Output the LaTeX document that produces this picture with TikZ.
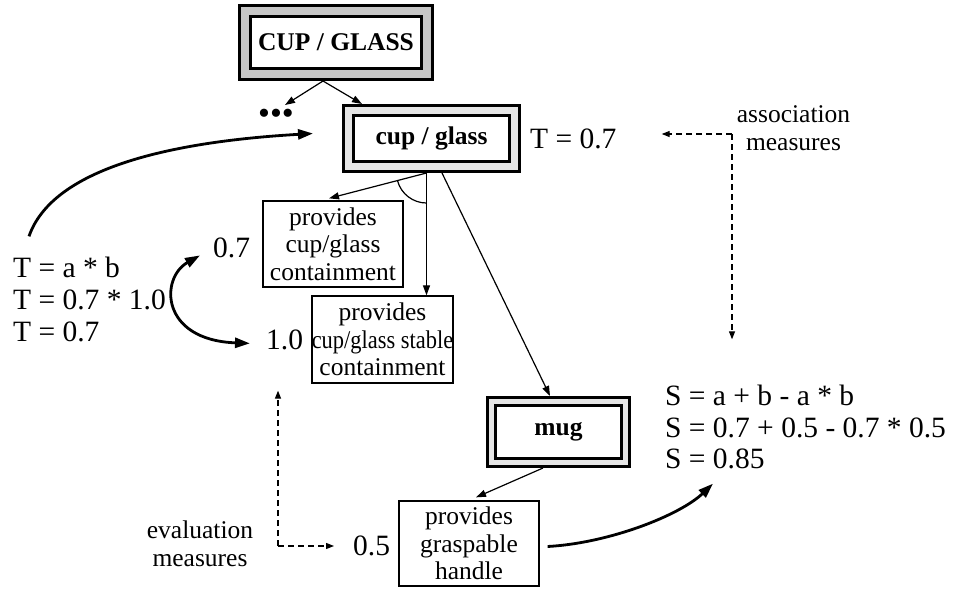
\documentclass[tikz,border=0pt]{standalone}
\usepackage{fontspec}
\usepackage{graphicx}
\setmainfont{Liberation Serif}
\usetikzlibrary{arrows.meta,calc}

\begin{document}
\begin{tikzpicture}[x=1pt,y=-1pt,
  lbl/.style={inner sep=0pt, font=\fontsize{29.5}{32}\selectfont},
  small/.style={inner sep=0pt, font=\fontsize{25.5}{28}\selectfont},
  pbox/.style={draw, line width=1.3pt, inner sep=0pt, align=center,
    font=\fontsize{25.5}{27.5}\selectfont},
  cbox/.style={draw, line width=2.6pt, fill=white, inner sep=0pt,
    font=\bfseries\fontsize{25.5}{28}\selectfont},
  link/.style={line width=1.2pt, -{Triangle[length=10pt,width=7pt]}},
  bold link/.style={line width=2.8pt, -{Triangle[length=15pt,width=10pt]}},
  bold both/.style={line width=2.8pt,
    {Triangle[length=15pt,width=10pt]}-{Triangle[length=15pt,width=10pt]}},
  measure/.style={line width=1.2pt, dash pattern=on 6pt off 4pt,
    -{Triangle[length=8pt,width=6pt]}},
]
\useasboundingbox (0,0) rectangle (955,592);

% concept boxes (double framed)
\node[cbox, double=gray!45, double distance=8.5pt, minimum width=182.3pt,
  minimum height=63.3pt, outer sep=6.85pt] (CUP) at (336,42.5) {CUP / GLASS};
\node[cbox, double=gray!20, double distance=7.5pt, minimum width=166.3pt,
  minimum height=56.3pt, outer sep=6.35pt] (cg) at (431.5,138.5) {cup / glass};
\node[cbox, double=gray!20, double distance=5.5pt, minimum width=134.3pt,
  minimum height=61.3pt, outer sep=5.35pt] (mug) at (558.5,432) {mug};

\node[inner sep=0pt, font=\fontsize{34}{34}\selectfont] (dots) at (276,117) {•••};

% property boxes
\node[pbox, minimum width=140pt, minimum height=86pt] (b1) at (333,244)
  {provides\\cup/glass\\containment};
\node[pbox, minimum width=141pt, minimum height=87pt] (b2) at (382.5,339.5)
  {provides\\\makebox[0pt]{\scalebox{0.88}[1]{cup/glass stable}}\\containment};
\node[pbox, minimum width=140pt, minimum height=85pt] (b3) at (469,543.5)
  {provides\\graspable\\handle};

% values and formulas
\node[lbl, anchor=base west] (T07) at (530,148) {T = 0.7};
\node[lbl, anchor=base west] (v07) at (213,257) {0.7};
\node[lbl, anchor=base west] (v10) at (266,349) {1.0};
\node[lbl, anchor=base west] (v05) at (353,555) {0.5};

\node[lbl, anchor=base west] (t1) at (13,277) {T = a * b};
\node[lbl, anchor=base west] (t2) at (13,309) {T = 0.7 * 1.0};
\node[lbl, anchor=base west] (t3) at (13,341) {T = 0.7};

\node[lbl, anchor=base west] (s1) at (665,405) {S = a + b - a * b};
\node[lbl, anchor=base west] (s2) at (665,437) {S = 0.7 + 0.5 - 0.7 * 0.5};
\node[lbl, anchor=base west] (s3) at (665,468) {S = 0.85};

\node[small, anchor=base] (ev1) at (200,538) {evaluation};
\node[small, anchor=base] (ev2) at (200,566) {measures};
\node[small, anchor=base] (as1) at (793.5,122) {association};
\node[small, anchor=base] (as2) at (793.5,150) {measures};

% hierarchy links
\draw[link] ([xshift=-13pt]CUP.south) -- ($(dots.center)+(9,-12)$);
\draw[link] ([xshift=-13pt]CUP.south) -- ($(cg.north west)+(20,0)$);
\coordinate (fork) at ($(cg.south)+(-5,0)$);
\draw[link] (fork) -- ($(b1.north)+(-4,-2)$);
\draw[link] (fork) -- (fork |- b2.north);
\draw[line width=1.2pt] (fork) ++(165:30) arc[start angle=165, end angle=90, radius=30];
\draw[link] ($(cg.south)+(10.5,0)$) -- ($(mug.north)+(-8.5,0)$);
\draw[link] ($(mug.south)+(-15.5,0)$) -- ($(b3.north)+(7,-3)$);

% evaluation measures
\coordinate (evc) at (278,546);
\draw[measure] (evc) -- ($(evc |- b2.south)+(0,7)$);
\draw[measure] (evc) -- ($(evc -| v05.west)+(-19,0)$);

% association measures
\coordinate (asc) at (732,134);
\draw[measure] (asc) -- ($(asc -| T07.east)+(45,0)$);
\draw[measure] (asc) -- ($(asc |- s1.north)+(0,-45)$);

% value propagation
\draw[bold link] ($(t1.north west)+(16,-20)$) .. controls (52,170) and (165,142)
  .. ($(cg.west)+(-29,-5)$);
\draw[bold both] ($(v07.west)+(-13,8)$) .. controls (160,278) and (160,340)
  .. ($(v10.west)+(-16,4)$);
\draw[bold link] ($(b3.east)+(8,3)$) .. controls (610,543) and (680,515)
  .. ($(s3.south west)+(48,15)$);
\end{tikzpicture}
\end{document}
